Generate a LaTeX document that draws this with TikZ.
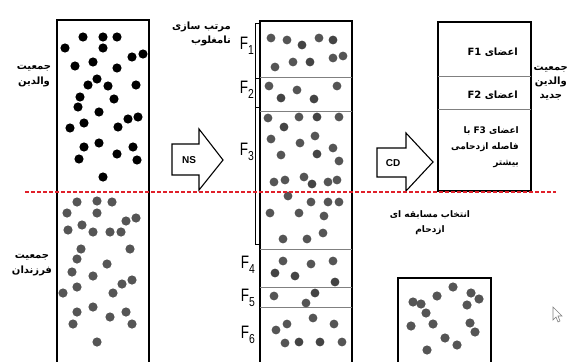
\documentclass[tikz,border=0pt]{standalone}
\usepackage{fontspec}
\setmainfont{Liberation Sans}
\newfontfamily\arabicfont[Script=Arabic]{DejaVu Sans}
\TeXXeTstate=1
\definecolor{dotgrey}{HTML}{555555}
\definecolor{dotdark}{HTML}{444444}
\definecolor{linegrey}{HTML}{808080}
\definecolor{dashred}{HTML}{E0202A}
\newcommand{\fsub}[1]{\scalebox{0.75}[1]{F}\raisebox{-5pt}{\fontsize{13}{13}\selectfont\scalebox{0.8}[1]{#1}}}
\begin{document}
\begin{tikzpicture}[x=1pt,y=-1pt,
  fa/.style={font=\arabicfont\bfseries\fontsize{10}{12}\selectfont, inner sep=0pt, align=center},
  fasmall/.style={font=\arabicfont\bfseries\fontsize{9}{11}\selectfont, inner sep=0pt, align=center},
  flabel/.style={font=\fontsize{18}{18}\selectfont, inner sep=0pt},
  boxline/.style={draw=black, line width=1.1pt},
  sep/.style={draw=linegrey, line width=0.8pt},
  bigarrow/.style={draw=black, line width=1.1pt, fill=white, line join=miter},
  ]
\useasboundingbox (0,0) rectangle (569,361);
\clip (0,0) rectangle (569,361);
\fill[white] (0,0) rectangle (569,361);

% ---------- left column ----------
\draw[boxline] (57,20) rectangle (149,364);
\foreach \x/\y in {83/37,103/37,117/37,65/48,103/48,132/57,143/54,75/66,93/62,117/68,97/79,88/85,108/86,136/85,80/97,114/99,78/107,99/112,128/119,138/117,84/123,70/128,118/127,99/143,84/147,133/147,79/159,117/154,137/160,103/177}
  \fill[black] (\x,\y) circle (4.6pt);
\foreach \x/\y in {77/202,97/201,112/202,67/213,97/213,126/221,136/218,68/230,82/225,93/232,110/232,121/232,81/249,130/249,77/259,107/264,72/272,93/276,132/280,122/284,77/287,63/293,113/293,77/312,93/307,126/312,110/317,73/324,132/324,97/342}
  \fill[dotgrey] (\x,\y) circle (4.6pt);
\node[fa] (parents) at (34,76) {\beginR جمعیت\endR\\[3pt]\beginR والدین\endR};
\node[fa] (children) at (32,265) {\beginR جمعیت\endR\\[3pt]\beginR فرزندان\endR};

% ---------- NS arrow ----------
\draw[bigarrow] (172,144) -- (199,144) -- (199,129) -- (223,160) -- (199,190) -- (199,175) -- (172,175) -- cycle;
\node[font=\fontsize{10}{10}\selectfont\bfseries, inner sep=0pt] (ns) at (189,160) {NS};
\node[fa, align=right, anchor=east] (sort) at (231,34) {\beginR مرتب سازی\endR\\[2pt]\beginR نامغلوب\endR};

% ---------- middle column ----------
\draw[boxline] (260,21) rectangle (352,364);
\foreach \yy in {77,111,249,287,307}
  \draw[sep] (260,\yy) -- (352,\yy);
\draw[black, line width=0.9pt] (260,23) -- (255,23) -- (255,244) -- (260,244);
\draw[black, line width=0.9pt] (255,78) -- (260,78);
\draw[black, line width=0.9pt] (255,107) -- (260,107);
\foreach \x/\y in {271/38,287/40,319/38,275/67,293/62,333/58,343/56,269/86,297/90,337/86,268/118,299/117,339/117,271/139,300/143,315/136,333/148,281/155,339/161,274/182,285/180,304/177,328/182,337/180,288/196,311/202,328/202,339/202,270/213,299/213,324/216,283/239,307/239,323/233,283/261,311/264,333/261,274/296,306/303,276/330,287/324,313/318,334/324,285/343,342/342}
  \fill[dotgrey] (\x,\y) circle (4.4pt);
\foreach \x/\y in {302/45,333/40,310/62,281/98,314/99,284/127,317/117,317/154,312/184,275/273,295/276,335/282,315/293,299/342,320/342}
  \fill[dotdark] (\x,\y) circle (4.4pt);
\node[flabel] (f1) at (247,46) {\fsub{1}};
\node[flabel] (f2) at (247,90) {\fsub{2}};
\node[flabel] (f3) at (247,152) {\fsub{3}};
\node[flabel] (f4) at (248,265) {\fsub{4}};
\node[flabel] (f5) at (248,298) {\fsub{5}};
\node[flabel] (f6) at (248,335) {\fsub{6}};

% ---------- CD arrow ----------
\draw[bigarrow] (377,148) -- (406,148) -- (406,133) -- (433,162) -- (406,191) -- (406,177) -- (377,177) -- cycle;
\node[font=\fontsize{10}{10}\selectfont\bfseries, inner sep=0pt] (cd) at (393,163) {CD};
\node[fasmall] (crowd) at (430,223) {\beginR انتخاب مسابقه ای\endR\\[4pt]\beginR ازدحام\endR};

% ---------- right box ----------
\draw[boxline] (438,22) rectangle (531,191);
\draw[sep] (438,76) -- (531,76);
\draw[sep] (438,109) -- (531,109);
\node[fa, anchor=east] (m1) at (518,52) {\beginR اعضای \beginL F1\endL\endR};
\node[fa, anchor=east] (m2) at (518,95) {\beginR اعضای \beginL F2\endL\endR};
\node[fasmall, anchor=east, align=right] (m3) at (519,147) {\beginR اعضای \beginL F3\endL{} با\endR\\[5pt]\beginR فاصله ازدحامی\endR\\[5pt]\beginR بیشتر\endR};
\node[fa, anchor=west] (newpar) at (533.5,83) {\beginR جمعیت\endR\\[2pt]\beginR والدین\endR\\[2pt]\beginR جدید\endR};

% ---------- dashed separator ----------
\draw[dashred, line width=1.5pt, dash pattern=on 4pt off 2pt] (25,192) -- (556,192);

% ---------- bottom small box ----------
\draw[boxline] (398,278) rectangle (491,364);
\foreach \x/\y in {413/302,421/304,426/313,437/296,453/287,471/293,479/299,467/305,411/326,433/324,470/323,475/332,445/338,457/345,427/350}
  \fill[dotgrey] (\x,\y) circle (4.6pt);

% ---------- mouse pointer ----------
\draw[linegrey, line width=0.6pt, fill=white] (553,307) -- (553,320) -- (556,317) -- (558,322) -- (560,321) -- (558,316) -- (562,316) -- cycle;
\end{tikzpicture}
\end{document}
